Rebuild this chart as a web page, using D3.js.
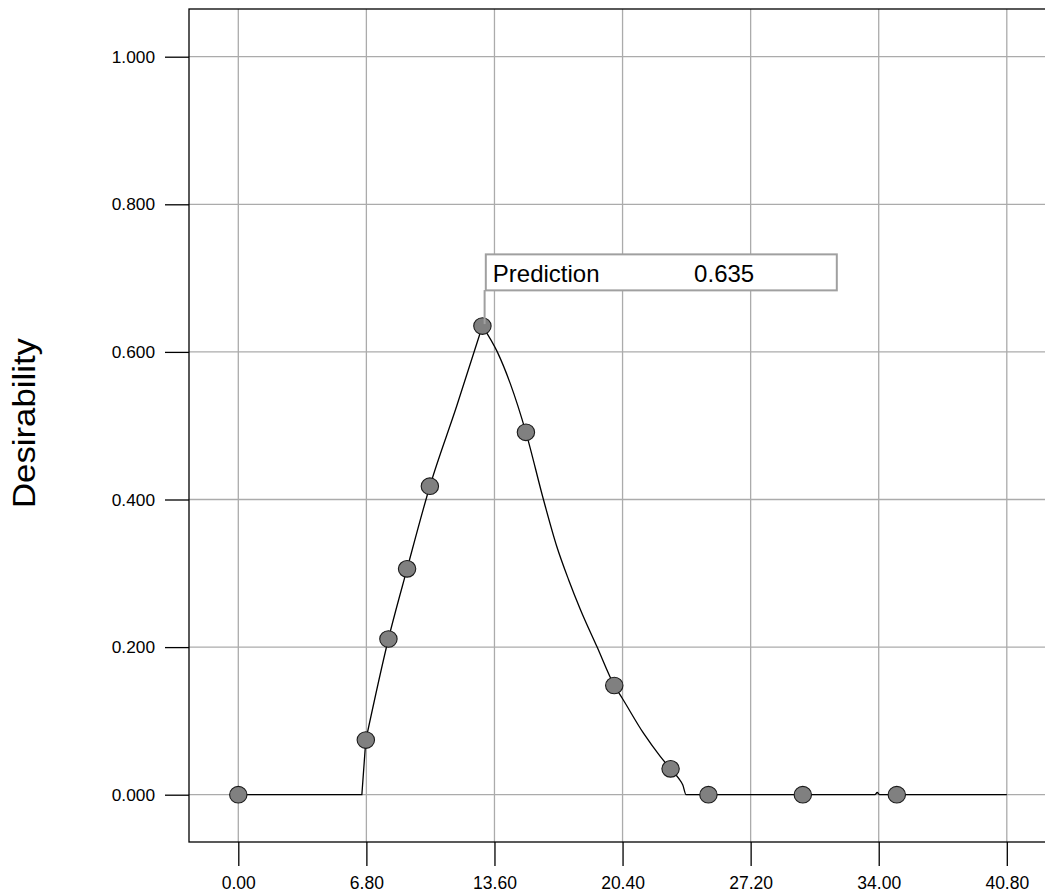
<!DOCTYPE html>
<html>
<head>
<meta charset="utf-8">
<script src="https://cdn.jsdelivr.net/npm/d3@7"></script>
<style>
  html, body { margin: 0; padding: 0; background: #fff; }
  svg { display: block; }
  text { font-family: "Liberation Sans", Arial, sans-serif; fill: #000; }
</style>
</head>
<body>
<svg id="chart" width="1045" height="894"></svg>
<script>
// ---- data ----
const xTicks = [0, 6.8, 13.6, 20.4, 27.2, 34.0, 40.8];
const xTickLabels = ["0.00", "6.80", "13.60", "20.40", "27.20", "34.00", "40.80"];
const yTicks = [0, 0.2, 0.4, 0.6, 0.8, 1.0];
const yTickLabels = ["0.000", "0.200", "0.400", "0.600", "0.800", "1.000"];

const pointX = [0, 6.77, 7.97, 8.96, 10.17, 12.96, 15.27, 19.96, 22.95, 24.96, 29.97, 34.96];
const pointY = [0, 0.074, 0.211, 0.306, 0.418, 0.635, 0.491, 0.148, 0.035, 0, 0, 0];

// prediction curve, split into pieces: flat/step part, rising part, falling part
const curveLowX  = [0, 6.56, 6.77];
const curveLowY  = [0, 0, 0.074];
const curveRiseX = [6.77, 7.97, 8.96, 10.17, 11.6, 12.96];
const curveRiseY = [0.074, 0.211, 0.306, 0.418, 0.527, 0.635];
const curveFallX = [12.96, 13.75, 14.44, 15.27, 16.2, 16.9, 17.54, 18.16, 19.05, 19.96, 20.4, 21.52, 22.4, 22.95, 23.38, 23.6, 23.77, 33.8, 33.92, 34.05, 40.8];
const curveFallY = [0.635, 0.600, 0.557, 0.491, 0.400, 0.337, 0.291, 0.251, 0.200, 0.148, 0.130, 0.083, 0.052, 0.035, 0.022, 0.013, 0, 0, 0.003, 0, 0];

const predictionLabel = "Prediction";
const predictionIndex = 5;
const predictionText = "0.635";
const yAxisTitle = "Desirability";

// ---- layout ----
const svg = d3.select("#chart");
const frame = { left: 189, top: 9, bottom: 842, right: 1060 };
const x = d3.scaleLinear().domain([0, 40.8]).range([238.3, 1006.8]);
const y = d3.scaleLinear().domain([0, 1]).range([794.7, 56.7]);

const gridColor = "#ababab";

// gridlines
svg.append("g").selectAll("line").data(xTicks).join("line")
  .attr("x1", d => x(d)).attr("x2", d => x(d))
  .attr("y1", frame.top).attr("y2", frame.bottom)
  .attr("stroke", gridColor).attr("stroke-width", 1.3);
svg.append("g").selectAll("line").data(yTicks).join("line")
  .attr("x1", frame.left).attr("x2", frame.right)
  .attr("y1", d => y(d)).attr("y2", d => y(d))
  .attr("stroke", gridColor).attr("stroke-width", 1.3);

// frame
svg.append("rect")
  .attr("x", frame.left).attr("y", frame.top)
  .attr("width", frame.right - frame.left).attr("height", frame.bottom - frame.top)
  .attr("fill", "none").attr("stroke", "#000").attr("stroke-width", 1.3);

// x axis
const xAxis = d3.axisBottom(x).tickValues(xTicks)
  .tickFormat((d, i) => xTickLabels[i]).tickSize(24).tickSizeOuter(0).tickPadding(11);
const gx = svg.append("g").attr("transform", `translate(0,${frame.bottom})`).call(xAxis);
gx.select(".domain").remove();
gx.selectAll(".tick line").attr("stroke", "#000").attr("stroke-width", 1.3);
gx.selectAll(".tick text").attr("font-size", 17.5).attr("fill", "#000")
  .attr("font-family", '"Liberation Sans", Arial, sans-serif');

// y axis
const yAxis = d3.axisLeft(y).tickValues(yTicks)
  .tickFormat((d, i) => yTickLabels[i]).tickSize(24).tickSizeOuter(0).tickPadding(10);
const gy = svg.append("g").attr("transform", `translate(${frame.left},0)`).call(yAxis);
gy.select(".domain").remove();
gy.selectAll(".tick line").attr("stroke", "#000").attr("stroke-width", 1.3);
gy.selectAll(".tick text").attr("font-size", 17.3).attr("fill", "#000")
  .attr("font-family", '"Liberation Sans", Arial, sans-serif');

// y axis title
svg.append("text")
  .attr("transform", `translate(35,423) rotate(-90)`)
  .attr("text-anchor", "middle")
  .attr("font-size", 31)
  .attr("textLength", 170).attr("lengthAdjust", "spacingAndGlyphs")
  .text(yAxisTitle);

// curve pieces
const zip = (xs, ys) => xs.map((d, i) => [d, ys[i]]);
const linear = d3.line().x(d => x(d[0])).y(d => y(d[1]));
const smooth = d3.line().x(d => x(d[0])).y(d => y(d[1])).curve(d3.curveMonotoneX);
const curveG = svg.append("g").attr("fill", "none").attr("stroke", "#000").attr("stroke-width", 1.3);
curveG.append("path").datum(zip(curveLowX, curveLowY)).attr("d", linear);
curveG.append("path").datum(zip(curveRiseX, curveRiseY)).attr("d", smooth);
curveG.append("path").datum(zip(curveFallX, curveFallY)).attr("d", smooth);

// points
const pts = zip(pointX, pointY);
svg.append("g").selectAll("ellipse").data(pts).join("ellipse")
  .attr("cx", d => x(d[0])).attr("cy", d => y(d[1]))
  .attr("rx", 8.7).attr("ry", 8.3)
  .attr("fill", "#808080").attr("stroke", "#1a1a1a").attr("stroke-width", 1.1);

// prediction annotation
const px = x(pointX[predictionIndex]);
const py = y(pointY[predictionIndex]);
svg.append("line")
  .attr("x1", px + 2.2).attr("x2", px + 2.2)
  .attr("y1", py - 36).attr("y2", py - 2)
  .attr("stroke", "#a0a0a0").attr("stroke-width", 2);
svg.append("rect")
  .attr("x", px + 3.4).attr("y", py - 71.7)
  .attr("width", 351).attr("height", 36)
  .attr("fill", "#fff").attr("stroke", "#a0a0a0").attr("stroke-width", 2);
svg.append("text")
  .attr("x", px + 10.4).attr("y", py - 44.3)
  .attr("font-size", 24).text(predictionLabel);
svg.append("text")
  .attr("x", px + 211.7).attr("y", py - 44.3)
  .attr("font-size", 24).text(predictionText);
</script>
</body>
</html>
